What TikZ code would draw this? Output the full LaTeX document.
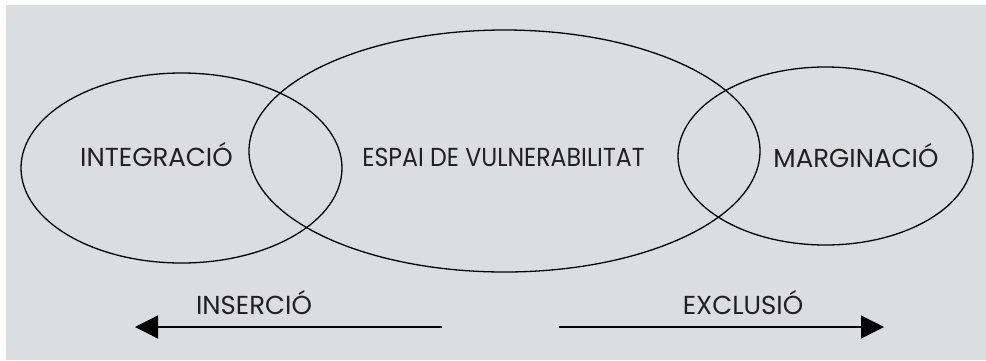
\documentclass[tikz,border=0pt]{standalone}
\usepackage{fontspec}
\setmainfont{Poppins}
\usetikzlibrary{shapes.geometric,arrows.meta}
\definecolor{bggray}{RGB}{220,221,223}
\definecolor{txt}{RGB}{35,31,32}
\begin{document}
\begin{tikzpicture}[x=1pt,y=-1pt,
  ring/.style={draw=black,line width=1.3pt,ellipse,inner sep=0pt,minimum width=#1},
  lbl/.style={text=txt,font=\fontsize{26}{26}\selectfont,inner sep=0pt,anchor=base},
  flow/.style={draw=black,line width=1.3pt,-{Triangle[length=23pt,width=23pt]}}]
\useasboundingbox (0,0) rectangle (986,360);
\fill[white] (0,0) rectangle (986,360);
\fill[bggray] (6,5) rectangle (986,360);
\node[ring=321pt,minimum height=190pt] (integ) at (181.5,168) {};
\node[ring=511pt,minimum height=242pt] (espai) at (504.5,151) {};
\node[ring=295pt,minimum height=178pt] (marg) at (825.5,156) {};
\node[lbl] (tinteg) at (156.5,166) {INTEGRACIÓ};
\node[lbl] (tespai) at (503.5,166) {\scalebox{0.91}[1]{ESPAI DE VULNERABILITAT}};
\node[lbl] (tmarg) at (856,167) {MARGINACIÓ};
\node[lbl] (tins) at (254,314) {INSERCIÓ};
\node[lbl] (texc) at (743,314) {EXCLUSIÓ};
\coordinate (ins0) at (442,327);
\coordinate (ins1) at (135,327);
\coordinate (exc0) at (559,327);
\coordinate (exc1) at (884,327);
\draw[flow] (ins0) -- (ins1);
\draw[flow] (exc0) -- (exc1);
\end{tikzpicture}
\end{document}
